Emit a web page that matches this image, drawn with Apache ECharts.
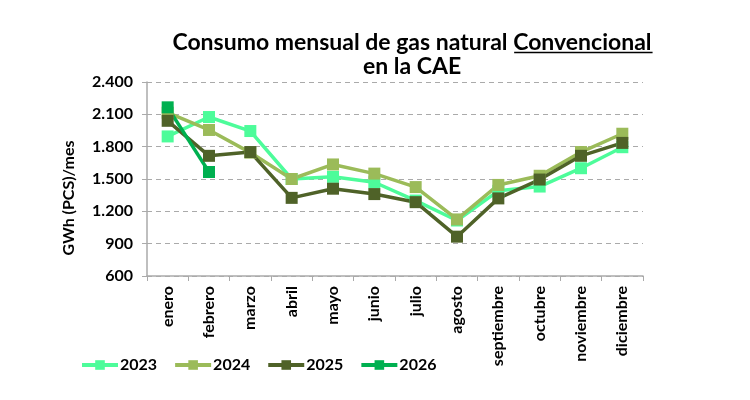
<!DOCTYPE html>
<html>
<head>
<meta charset="utf-8">
<script src="https://cdn.jsdelivr.net/npm/echarts@6/dist/echarts.min.js"></script>
<style>
  html, body { margin: 0; padding: 0; background: #fff; }
  #chart { width: 750px; height: 400px; }
</style>
</head>
<body>
<div id="chart"></div>
<script>
// datos (GWh PCS / mes)
var meses = ['enero', 'febrero', 'marzo', 'abril', 'mayo', 'junio', 'julio',
  'agosto', 'septiembre', 'octubre', 'noviembre', 'diciembre'];

var v2023 = [1895, 2075, 1945, 1500, 1520, 1470, 1300, 1115, 1390, 1430, 1600, 1795];
var v2024 = [2115, 1955, 1745, 1500, 1635, 1550, 1425, 1125, 1445, 1530, 1750, 1920];
var v2025 = [2040, 1715, 1750, 1325, 1410, 1360, 1285, 965, 1320, 1495, 1715, 1835];
var v2026 = [2165, 1565];

var colores = {
  '2023': '#4dfc9a',
  '2024': '#9bbb59',
  '2025': '#4f6228',
  '2026': '#00b050'
};

var tituloL1 = 'Consumo mensual de gas natural Convencional';
var tituloL2 = 'en la CAE';
var subrayado = 'Convencional';
var tituloFont = 'bold 23px Lato';
var tituloCx = 407;

// medir el texto para colocar el subrayado bajo "Convencional"
var ctx = document.createElement('canvas').getContext('2d');
ctx.font = tituloFont;
var anchoL1 = ctx.measureText(tituloL1).width;
var anchoSub = ctx.measureText(subrayado).width;
var finL1 = tituloCx + anchoL1 / 2 + 6;

function serie(nombre, datos) {
  return {
    name: nombre,
    type: 'line',
    data: datos,
    symbol: 'rect',
    symbolSize: 12,
    lineStyle: { width: 3.5, color: colores[nombre] },
    itemStyle: { color: colores[nombre] },
    emphasis: { disabled: true }
  };
}

var myChart = echarts.init(document.getElementById('chart'));

var option = {
  animation: false,
  textStyle: { fontFamily: 'Lato', fontWeight: 'bold' },
  title: {
    text: tituloL1 + '\n' + tituloL2,
    left: tituloCx,
    textAlign: 'center',
    top: 26,
    textStyle: { fontFamily: 'Lato', fontSize: 23, fontWeight: 'bold', color: '#000', lineHeight: 24 }
  },
  graphic: [{
    type: 'line',
    shape: { x1: finL1 - anchoSub, y1: 52.5, x2: finL1, y2: 52.5 },
    style: { stroke: '#000', lineWidth: 1.5 }
  }],
  legend: {
    left: 75,
    top: 352,
    itemWidth: 36,
    itemHeight: 12,
    itemGap: 16,
    lineStyle: { width: 4 },
    textStyle: { fontFamily: 'Lato', fontSize: 16, fontWeight: 'bold', color: '#000', padding: [0, 0, 0, -3] },
    data: ['2023', '2024', '2025', '2026']
  },
  grid: { left: 147, right: 107, top: 82, bottom: 124 },
  xAxis: {
    type: 'category',
    data: meses,
    boundaryGap: true,
    axisLine: { lineStyle: { color: '#aaaaaa', width: 1.5 } },
    axisTick: { show: true, alignWithLabel: false, length: 5, lineStyle: { color: '#aaaaaa' } },
    axisLabel: {
      rotate: 90,
      interval: 0,
      margin: 10,
      fontFamily: 'Lato',
      fontWeight: 'bold',
      fontSize: 16,
      color: '#000'
    }
  },
  yAxis: {
    type: 'value',
    min: 600,
    max: 2400,
    interval: 300,
    name: 'GWh (PCS)/mes',
    nameLocation: 'middle',
    nameGap: 70,
    nameTextStyle: { fontFamily: 'Lato', fontWeight: 'bold', fontSize: 16, color: '#000', padding: [0, 38, 0, 0] },
    axisLine: { show: true, lineStyle: { color: '#aaaaaa', width: 1.5 } },
    axisTick: { show: true, length: 5, lineStyle: { color: '#aaaaaa' } },
    splitLine: { lineStyle: { color: '#aaaaaa', type: [5, 4], width: 1 } },
    axisLabel: {
      margin: 14,
      fontFamily: 'Lato',
      fontWeight: 'bold',
      fontSize: 16,
      color: '#000',
      formatter: function (v) {
        return String(v).replace(/\B(?=(\d{3})+(?!\d))/g, '.');
      }
    }
  },
  series: [
    serie('2023', v2023),
    serie('2024', v2024),
    serie('2025', v2025),
    serie('2026', v2026)
  ]
};

myChart.setOption(option);
</script>
</body>
</html>
